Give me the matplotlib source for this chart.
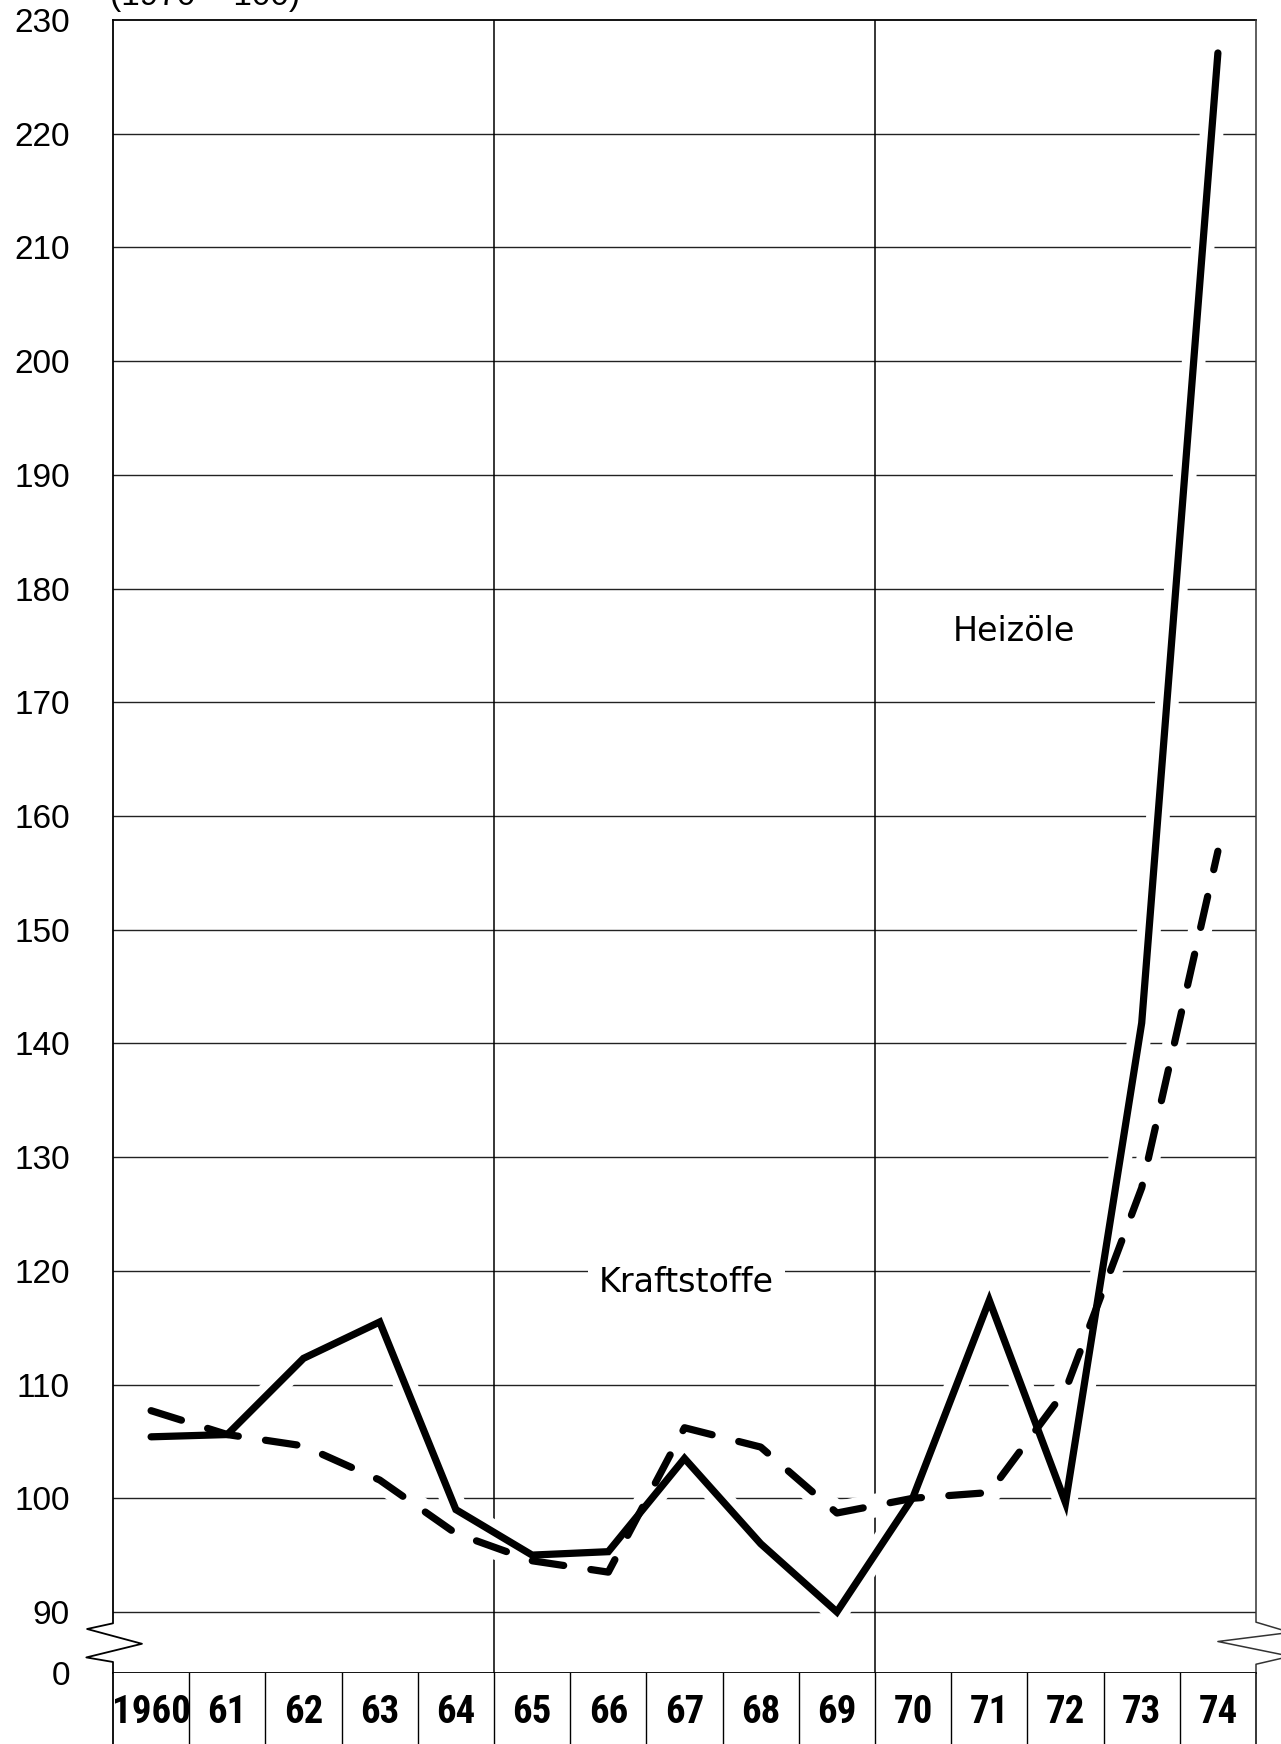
import matplotlib
matplotlib.use("Agg")
import matplotlib.pyplot as plt
from matplotlib import font_manager as fm

# ---- data ----
year_labels = ['1960', '61', '62', '63', '64', '65', '66', '67', '68', '69',
               '70', '71', '72', '73', '74']
heizoele = [105.4, 105.6, 112.3, 115.5, 99.0, 95.0, 95.3, 103.5, 96.0, 90.0,
            100.1, 117.4, 99.6, 141.8, 227.1]
kraftstoffe = [107.7, 105.6, 104.6, 101.6, 96.9, 94.5, 93.5, 106.2, 104.5, 98.7,
               100.0, 100.5, 109.5, 127.3, 156.9]
ytick_values = [90, 100, 110, 120, 130, 140, 150, 160, 170, 180, 190, 200, 210, 220, 230]
break_bottom = 84.63  # position of the "0" line below the axis break
header = "(1970 = 100)"


def pick_condensed_bold():
    """Find a condensed / narrow bold font file, if one is installed."""
    cands = []
    for f in fm.fontManager.ttflist:
        name = f.name.lower()
        fname = f.fname.lower()
        narrow = ('condensed' in name or 'narrow' in name or 'condensed' in fname
                  or 'narrow' in fname or 'cond' in fname
                  or str(f.stretch) in ('condensed', 'semi-condensed', 'extra-condensed'))
        if not narrow:
            continue
        w = f.weight if isinstance(f.weight, int) else {'bold': 700, 'normal': 400}.get(str(f.weight), 400)
        italic = f.style != 'normal'
        if italic:
            continue
        score = -abs(w - 700)
        cands.append((score, f.fname))
    if cands:
        cands.sort(reverse=True)
        return fm.FontProperties(fname=cands[0][1], size=28), True
    return fm.FontProperties(family='Liberation Sans', weight='bold', size=23), False


year_font, _ = pick_condensed_bold()

W, H = 1281, 1744
fig = plt.figure(figsize=(W / 100, H / 100), dpi=100)

x = list(range(len(year_labels)))
ax = fig.add_axes([113 / W, 1 - 1673 / H, 1143 / W, 1653 / H])
ax.set_xlim(-0.5, len(year_labels) - 0.5)
ax.set_ylim(break_bottom, 230)

for s in ['left', 'right']:
    ax.spines[s].set_visible(False)
ax.spines['top'].set_linewidth(1.3)
ax.spines['bottom'].set_linewidth(1.3)

# horizontal grid lines
for v in ytick_values[:-1]:
    ax.axhline(v, color='#222222', lw=1.0, zorder=1)
# vertical grid lines at the 1965 and 1970 boundaries
for xb in [4.5, 9.5]:
    ax.axvline(xb, color='black', lw=1.1, zorder=1)

# axis lines with break zigzags
lx = [-0.5, -0.5, -0.84, -0.12, -0.85, -0.5, -0.5]
ly = [230, 89.0, 88.5, 87.2, 86.0, 85.6, break_bottom]
ax.plot(lx, ly, color='black', lw=1.3, clip_on=False, zorder=3)
rx = [14.5, 14.5, 14.95, 14.0, 14.95, 14.5, 14.5]
ry = [230, 89.1, 88.2, 87.4, 86.1, 85.4, break_bottom]
ax.plot(rx, ry, color='#333333', lw=1.1, clip_on=False, zorder=3)

# white halos under the data lines
for series in (heizoele, kraftstoffe):
    ax.plot(x, series, color='white', lw=17, solid_capstyle='round',
            solid_joinstyle='round', zorder=4)

ax.plot(x, heizoele, color='black', lw=5.2, solid_capstyle='round',
        solid_joinstyle='miter', zorder=5)
ax.plot(x, kraftstoffe, color='black', lw=5.2, linestyle=(0, (4.4, 3.8)),
        dash_capstyle='round', dash_joinstyle='round', zorder=5)

ax.text(11.32, 176.2, 'Heizöle', fontsize=24, family='DejaVu Sans',
        ha='center', va='center', zorder=6,
        bbox=dict(facecolor='white', edgecolor='none', pad=4))
ax.text(7.02, 119.0, 'Kraftstoffe', fontsize=24, family='DejaVu Sans',
        ha='center', va='center', zorder=6,
        bbox=dict(facecolor='white', edgecolor='none', pad=8))

ax.set_xticks([])
ax.set_yticks([break_bottom] + ytick_values)
ax.set_yticklabels(['0'] + [str(v) for v in ytick_values],
                   fontsize=24, family='Liberation Sans')
ax.tick_params(axis='y', length=0, pad=31)

# header (cut off at the top edge, as in the reference)
fig.text(110 / W, 1 - 5 / H, header, fontsize=24, family='Liberation Sans',
         ha='left', va='baseline')

# year strip
bx = fig.add_axes([113 / W, 0, 1143 / W, 1 - 1673 / H])
bx.set_xlim(-0.5, len(year_labels) - 0.5)
bx.set_ylim(0, 1)
for s in ['top', 'bottom']:
    bx.spines[s].set_visible(False)
bx.spines['left'].set_linewidth(1.3)
bx.spines['right'].set_linewidth(1.1)
bx.set_xticks([])
bx.set_yticks([])
for k in range(1, len(year_labels)):
    bx.axvline(k - 0.5, color='black', lw=1.0)
for i, lab in enumerate(year_labels):
    bx.text(i, 0.45, lab, ha='center', va='center', fontproperties=year_font)

fig.savefig('out.png', dpi=100)
